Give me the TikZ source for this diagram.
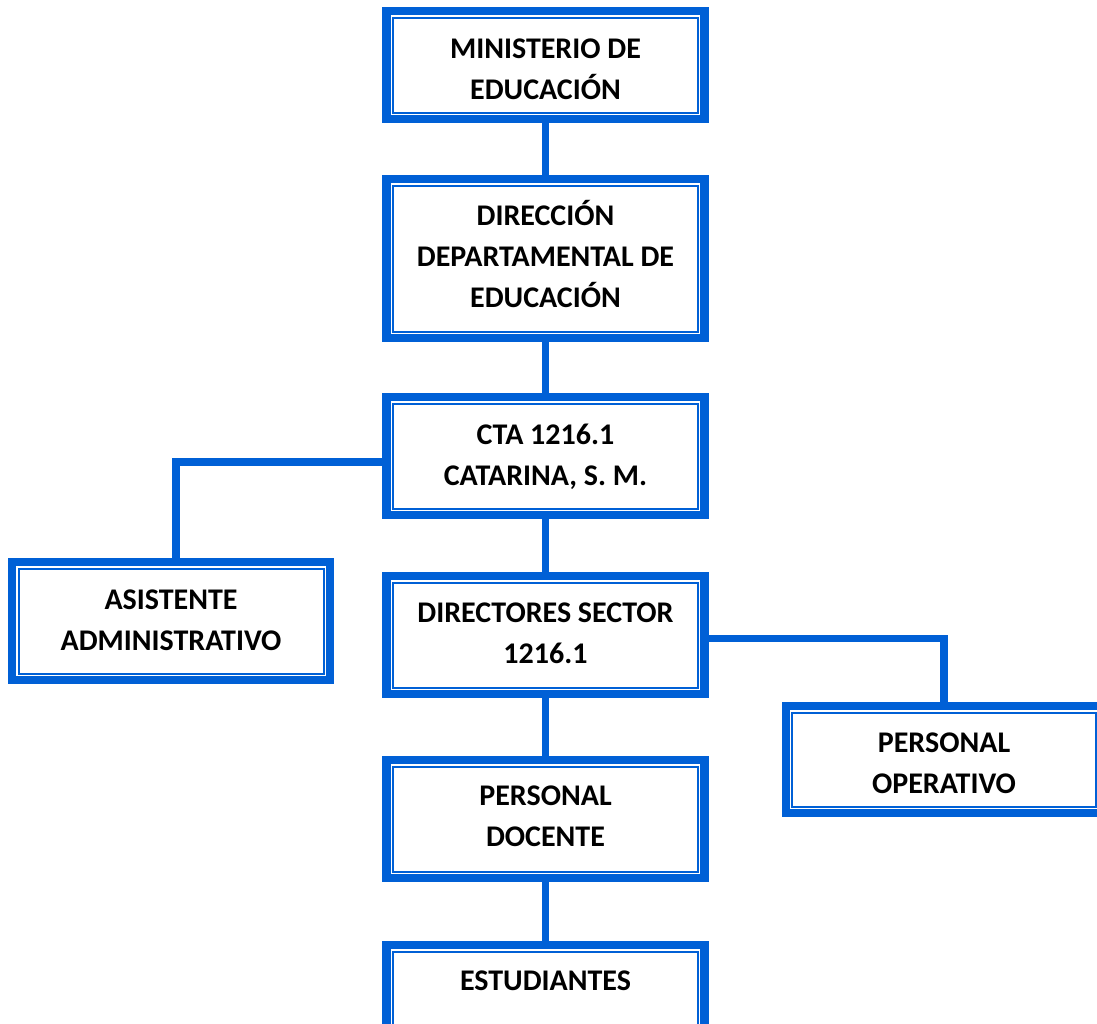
\documentclass[tikz,border=0pt]{standalone}
\usepackage{fontspec}
\setmainfont{Carlito}
\usetikzlibrary{calc}
\definecolor{orgblue}{RGB}{0,96,214}
\tikzset{
  obox/.style={draw=orgblue, line width=8.5pt, outer sep=0pt, inner sep=0pt, shape=rectangle},
  ibox/.style={draw=orgblue, line width=2pt},
  otext/.style={font=\fontsize{30}{41}\selectfont\bfseries, align=center, anchor=base, inner sep=0pt},
  conn/.style={draw=orgblue, line width=7.5pt},
}
% name, x, y, width, height, last text baseline y, text
\newcommand\orgbox[7]{%
  \node[obox, minimum width=#4pt, minimum height=#5pt] (#1) at (#2,#3) {};
  \draw[ibox] ($(#1.north west)+(6.5,6.5)$) rectangle ($(#1.south east)+(-6.5,-6.5)$);
  \node[otext] (#1t) at (#2,#6) {#7};
}
\begin{document}
\begin{tikzpicture}[x=1pt,y=-1pt]
\useasboundingbox (0,0) rectangle (1097,1023);
\orgbox{min}{545.5}{65}{318}{108}{99}{MINISTERIO DE\\EDUCACIÓN}
\orgbox{dde}{545.5}{258.5}{318}{159}{307}{DIRECCIÓN\\DEPARTAMENTAL DE\\EDUCACIÓN}
\orgbox{cta}{545.5}{456}{318}{118}{485}{CTA 1216.1\\CATARINA, S. M.}
\orgbox{asi}{171}{621}{318}{118}{650}{ASISTENTE\\ADMINISTRATIVO}
\orgbox{dir}{545.5}{635}{318}{118}{663}{DIRECTORES SECTOR\\1216.1}
\orgbox{ope}{944}{759.5}{316.5}{107}{793}{PERSONAL\\OPERATIVO}
\orgbox{doc}{545.5}{819}{318}{118}{846}{PERSONAL\\DOCENTE}
\orgbox{est}{545.5}{1004}{318}{118}{990}{ESTUDIANTES}
\draw[conn] (min.south) -- (dde.north);
\draw[conn] (dde.south) -- (cta.north);
\draw[conn] (cta.south) -- (dir.north);
\draw[conn] (dir.south) -- (doc.north);
\draw[conn] (doc.south) -- (est.north);
\draw[conn] ([yshift=-6pt]cta.west) -| ([xshift=5pt]asi.north);
\draw[conn] ([yshift=-3.5pt]dir.east) -| (ope.north);
\end{tikzpicture}
\end{document}
